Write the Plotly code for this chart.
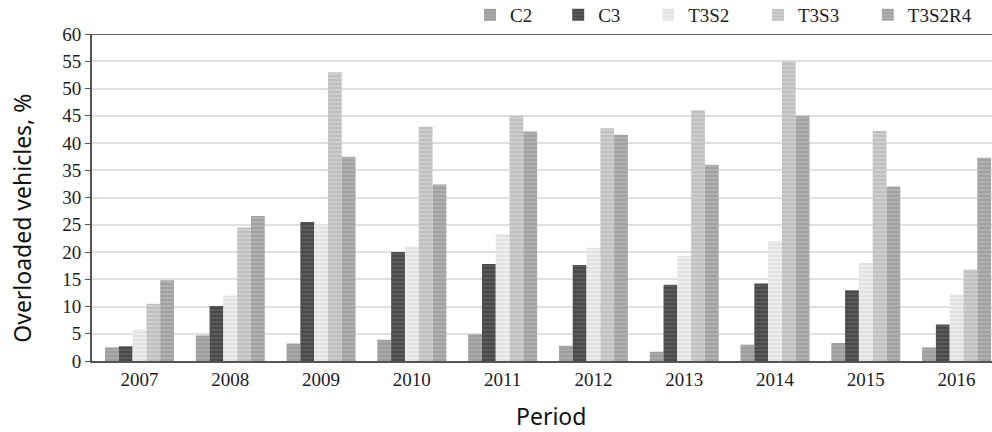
import plotly.graph_objects as go

# Data
years = ["2007", "2008", "2009", "2010", "2011", "2012", "2013", "2014", "2015", "2016"]
c2 = [2.5, 4.7, 3.2, 3.9, 4.9, 2.8, 1.7, 3.0, 3.3, 2.5]
c3 = [2.7, 10.1, 25.5, 20.0, 17.8, 17.6, 14.0, 14.2, 13.0, 6.7]
t3s2 = [5.8, 12.0, 25.0, 21.0, 23.3, 20.8, 19.3, 22.0, 18.0, 12.2]
t3s3 = [10.5, 24.5, 53.0, 43.0, 45.0, 42.7, 46.0, 55.0, 42.2, 16.8]
t3s2r4 = [14.8, 26.6, 37.5, 32.4, 42.1, 41.5, 36.0, 45.0, 32.0, 37.3]

series = [
    ("C2", c2, "#a9a9a9", "#8f8f8f"),
    ("C3", c3, "#5a5a5a", "#2e2e2e"),
    ("T3S2", t3s2, "#ececec", "#d6d6d6"),
    ("T3S3", t3s3, "#cdcdcd", "#adadad"),
    ("T3S2R4", t3s2r4, "#b0b0b0", "#8a8a8a"),
]

serif = "Liberation Serif, Times New Roman, serif"
sans = "Noto Sans, Open Sans, sans-serif"
ink = "#1c1c28"

# one small legend per series so each entry sits where the original has it
legend_x = [0.42, 0.518, 0.618, 0.74, 0.862]

fig = go.Figure()
layout_legends = {}
for i, (name, vals, bg, fg) in enumerate(series):
    key = "legend" if i == 0 else f"legend{i + 1}"
    fig.add_trace(go.Bar(
        x=years, y=vals, name=name, legend=key, showlegend=True,
        marker=dict(color=bg, line=dict(width=0),
                    pattern=dict(shape="-", fgcolor=fg, bgcolor=bg, size=4, solidity=0.4)),
    ))
    layout_legends[key] = dict(x=legend_x[i], xanchor="left", y=1.0, yanchor="bottom",
                               orientation="h", itemwidth=30, bgcolor="rgba(0,0,0,0)",
                               font=dict(family=serif, size=19, color=ink))

fig.update_layout(
    width=992, height=432,
    margin=dict(l=92, r=0, t=34, b=71, autoexpand=False),
    showlegend=True,
    paper_bgcolor="white", plot_bgcolor="white",
    barmode="group", bargap=0.24, bargroupgap=0,
    font=dict(family=serif, size=19, color=ink),
    xaxis=dict(range=[-0.523, 9.39], showline=True, linecolor="#555", linewidth=2,
               ticks="", automargin=False,
               tickfont=dict(family=serif, size=19, color=ink)),
    yaxis=dict(range=[0, 60], dtick=5, showline=True, linecolor="#555", linewidth=2,
               ticks="outside", ticklen=5, tickcolor="#555", automargin=False,
               gridcolor="#e0e0e0", gridwidth=1.5, zeroline=False,
               tickfont=dict(family=serif, size=19, color=ink)),
    **layout_legends,
)

# axis titles placed as annotations to match the original offsets
fig.add_annotation(text="Overloaded vehicles, %", textangle=-90, showarrow=False,
                   xref="paper", yref="paper", x=0, xanchor="center", xshift=-70,
                   y=0.435, yanchor="middle",
                   font=dict(family=sans, size=23, color="#111"))
fig.add_annotation(text="Period", showarrow=False, xref="paper", yref="paper",
                   x=0.51, xanchor="center", y=0, yanchor="middle", yshift=-55,
                   font=dict(family=sans, size=23, color="#111"))

# darker rule along the top of the plot area
fig.add_shape(type="line", xref="paper", yref="y", x0=0, x1=1, y0=60, y1=60,
              line=dict(color="#666", width=2))

# drop the default page margin so the 992x432 figure fills the window
fig.write_html("out.html", config={"displayModeBar": False},
               post_script="document.body.style.margin='0';")
